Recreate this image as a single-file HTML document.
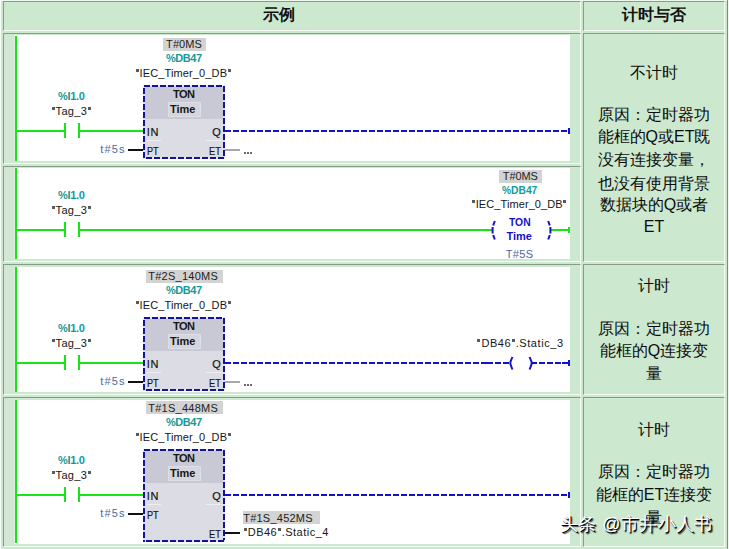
<!DOCTYPE html>
<html><head><meta charset="utf-8"><style>
html,body{margin:0;padding:0;background:#fff;}
body{width:729px;height:549px;position:relative;overflow:hidden;font-family:"Liberation Sans",sans-serif;}
div{position:absolute;box-sizing:content-box;}
.t{white-space:nowrap;}
.n{-webkit-text-stroke:0.2px currentColor;}
.q{color:transparent;-webkit-text-stroke:0;position:relative;}
.q::after{content:'';position:absolute;left:0.6px;top:2.3px;width:3px;height:2.5px;background:#5a5a5a;}
.c{text-align:center;white-space:nowrap;}
.r{text-align:center;white-space:nowrap;font-size:16px;line-height:20px;color:#0c0c0c;font-weight:500;}
.wm{white-space:nowrap;font-size:18px;line-height:22px;color:#fff;font-weight:500;letter-spacing:0.4px;text-shadow:1px 1px 0 #000,1.5px 1.5px 1px rgba(0,0,0,.7);}
svg{position:absolute;left:0;top:0;}
</style></head><body>
<div style="left:0px;top:0px;width:728px;height:549px;background:#cce8cf;"></div>
<div style="left:0px;top:0px;width:728px;height:1px;background:#eef8ee;"></div>
<div style="left:0px;top:0px;width:1px;height:549px;background:#fbfffb;"></div>
<div style="left:727px;top:0px;width:1px;height:549px;background:#7d8a7d;"></div>
<div style="left:728px;top:0px;width:1px;height:549px;background:#f0f8f0;"></div>
<div style="left:3px;top:1px;width:576px;height:28px;background:#cce8cf;border-top:1px solid #8a9a8a;border-left:1px solid #8a9a8a;border-right:1px solid #f4fcf4;border-bottom:1px solid #f4fcf4"></div>
<div style="left:583px;top:1px;width:140px;height:28px;background:#cce8cf;border-top:1px solid #8a9a8a;border-left:1px solid #8a9a8a;border-right:1px solid #f4fcf4;border-bottom:1px solid #f4fcf4"></div>
<div style="left:3px;top:33px;width:576px;height:129px;background:#cce8cf;border-top:1px solid #8a9a8a;border-left:1px solid #8a9a8a;border-right:1px solid #f4fcf4;border-bottom:1px solid #f4fcf4"></div>
<div style="left:3px;top:166px;width:576px;height:94px;background:#cce8cf;border-top:1px solid #8a9a8a;border-left:1px solid #8a9a8a;border-right:1px solid #f4fcf4;border-bottom:1px solid #f4fcf4"></div>
<div style="left:3px;top:264px;width:576px;height:129px;background:#cce8cf;border-top:1px solid #8a9a8a;border-left:1px solid #8a9a8a;border-right:1px solid #f4fcf4;border-bottom:1px solid #f4fcf4"></div>
<div style="left:3px;top:397px;width:576px;height:148px;background:#cce8cf;border-top:1px solid #8a9a8a;border-left:1px solid #8a9a8a;border-right:1px solid #f4fcf4;border-bottom:1px solid #f4fcf4"></div>
<div style="left:583px;top:33px;width:140px;height:227px;background:#cce8cf;border-top:1px solid #8a9a8a;border-left:1px solid #8a9a8a;border-right:1px solid #f4fcf4;border-bottom:1px solid #f4fcf4"></div>
<div style="left:583px;top:264px;width:140px;height:129px;background:#cce8cf;border-top:1px solid #8a9a8a;border-left:1px solid #8a9a8a;border-right:1px solid #f4fcf4;border-bottom:1px solid #f4fcf4"></div>
<div style="left:583px;top:397px;width:140px;height:148px;background:#cce8cf;border-top:1px solid #8a9a8a;border-left:1px solid #8a9a8a;border-right:1px solid #f4fcf4;border-bottom:1px solid #f4fcf4"></div>
<div style="left:580px;top:31px;width:1px;height:1px;background:#f4fcf4;"></div>
<div style="left:580px;top:32px;width:1px;height:1px;background:#f4fcf4;"></div>
<div style="left:580px;top:164px;width:1px;height:1px;background:#f4fcf4;"></div>
<div style="left:580px;top:165px;width:1px;height:1px;background:#f4fcf4;"></div>
<div style="left:580px;top:262px;width:1px;height:1px;background:#f4fcf4;"></div>
<div style="left:580px;top:263px;width:1px;height:1px;background:#f4fcf4;"></div>
<div style="left:580px;top:395px;width:1px;height:1px;background:#f4fcf4;"></div>
<div style="left:580px;top:396px;width:1px;height:1px;background:#f4fcf4;"></div>
<div style="left:724px;top:31px;width:1px;height:1px;background:#f4fcf4;"></div>
<div style="left:724px;top:32px;width:1px;height:1px;background:#f4fcf4;"></div>
<div style="left:724px;top:262px;width:1px;height:1px;background:#f4fcf4;"></div>
<div style="left:724px;top:263px;width:1px;height:1px;background:#f4fcf4;"></div>
<div style="left:724px;top:395px;width:1px;height:1px;background:#f4fcf4;"></div>
<div style="left:724px;top:396px;width:1px;height:1px;background:#f4fcf4;"></div>
<div class="c" style="left:-9px;top:5px;width:576px;font-size:16px;line-height:20px;font-weight:bold;color:#111">示例</div>
<div class="c" style="left:584px;top:5px;width:140px;font-size:16px;line-height:20px;font-weight:bold;color:#111">计时与否</div>
<div style="left:4px;top:35px;width:566px;height:126px;background:#ffffff;"></div>
<div style="left:4px;top:35px;width:10px;height:126px;background:#d4e6d6;"></div>
<div style="left:14px;top:35px;width:1px;height:126px;background:#dcf2d8;"></div>
<div style="left:15px;top:36px;width:2px;height:125px;background:#18e418;"></div>
<div style="left:163px;top:38px;width:43px;height:13px;background:#d3d3d3;"></div>
<div class="t" style="left:166.1px;top:39px;font-size:11px;line-height:11px;color:#222;font-weight:normal;letter-spacing:0.07px;">T#0MS</div>
<div class="t" style="left:58.0px;top:91px;font-size:11px;line-height:11px;color:#139a9a;font-weight:bold;letter-spacing:-0.33px;">%I1.0</div>
<div class="t" style="left:51.3px;top:106px;font-size:11px;line-height:11px;color:#161616;font-weight:normal;letter-spacing:0.34px;"><span class="q">"</span>Tag_3<span class="q">"</span></div>
<div style="left:17px;top:130px;width:47px;height:2px;background:#18e418;"></div>
<div style="left:64px;top:123px;width:2px;height:15px;background:#18e418;"></div>
<div style="left:78px;top:123px;width:2px;height:15px;background:#18e418;"></div>
<div style="left:80px;top:130px;width:63px;height:2px;background:#18e418;"></div>
<div class="t" style="left:166.0px;top:53px;font-size:11px;line-height:11px;color:#139a9a;font-weight:bold;letter-spacing:-0.44px;">%DB47</div>
<div class="t" style="left:135.5px;top:68px;font-size:11px;line-height:11px;color:#161616;font-weight:normal;letter-spacing:0.13px;"><span class="q">"</span>IEC_Timer_0_DB<span class="q">"</span></div>
<div style="left:143px;top:85px;width:82px;height:74px;background:#e2e2f4;"></div>
<div style="left:145px;top:87px;width:78px;height:70px;background:#dcdce4;"></div>
<div style="left:145px;top:87px;width:78px;height:32px;background:#c9c9d6;"></div>
<div style="left:168px;top:102px;width:33px;height:15px;background:#d5d5dd;box-shadow:inset 0 0 0 1px #dedee6;"></div>
<div class="t" style="left:173.0px;top:89px;font-size:11px;line-height:11px;color:#161616;font-weight:bold;letter-spacing:-0.53px;">TON</div>
<div class="t" style="left:170.1px;top:104px;font-size:11px;line-height:11px;color:#161616;font-weight:bold;letter-spacing:-0.06px;">Time</div>
<div class="t n" style="left:146.7px;top:127px;font-size:11px;line-height:11px;color:#161616;font-weight:normal;letter-spacing:0.71px;">IN</div>
<div style="left:147px;top:140px;width:14px;height:1px;background:#eeeef2;"></div>
<div style="left:206px;top:140px;width:16px;height:1px;background:#eeeef2;"></div>
<div class="t n" style="left:146.95px;top:146px;font-size:11px;line-height:11px;color:#161616;font-weight:normal;transform:scaleX(0.829);transform-origin:0 0;">PT</div>
<div class="t n" style="left:212.3px;top:127px;font-size:11px;line-height:11px;color:#161616;font-weight:normal;letter-spacing:0.00px;">Q</div>
<div class="t n" style="left:209.24px;top:146px;font-size:11px;line-height:11px;color:#161616;font-weight:normal;transform:scaleX(0.837);transform-origin:0 0;">ET</div>
<div class="t" style="left:100.3px;top:144px;font-size:11px;line-height:11px;color:#4a68a0;font-weight:normal;letter-spacing:1.16px;">t#5s</div>
<div style="left:128px;top:149px;width:15px;height:2px;background:#111;"></div>
<div style="left:225px;top:149px;width:15px;height:2px;background:#a8a8a8;"></div>
<div style="left:244px;top:152px;width:2px;height:2px;background:#6a6a6a;"></div>
<div style="left:247px;top:152px;width:2px;height:2px;background:#6a6a6a;"></div>
<div style="left:250px;top:152px;width:2px;height:2px;background:#6a6a6a;"></div>
<div style="left:568px;top:128px;width:2px;height:6px;background:#1212c8;"></div>
<div style="left:4px;top:168px;width:566px;height:91px;background:#ffffff;"></div>
<div style="left:4px;top:168px;width:10px;height:91px;background:#d4e6d6;"></div>
<div style="left:14px;top:168px;width:1px;height:91px;background:#dcf2d8;"></div>
<div style="left:15px;top:168px;width:2px;height:91px;background:#18e418;"></div>
<div class="t" style="left:58.0px;top:190px;font-size:11px;line-height:11px;color:#139a9a;font-weight:bold;letter-spacing:-0.33px;">%I1.0</div>
<div class="t" style="left:51.3px;top:205px;font-size:11px;line-height:11px;color:#161616;font-weight:normal;letter-spacing:0.34px;"><span class="q">"</span>Tag_3<span class="q">"</span></div>
<div style="left:17px;top:229px;width:47px;height:2px;background:#18e418;"></div>
<div style="left:64px;top:222px;width:2px;height:15px;background:#18e418;"></div>
<div style="left:78px;top:222px;width:2px;height:15px;background:#18e418;"></div>
<div style="left:80px;top:229px;width:412px;height:2px;background:#18e418;"></div>
<div style="left:499px;top:170px;width:43px;height:13px;background:#d3d3d3;"></div>
<div class="t" style="left:502.8px;top:171px;font-size:11px;line-height:11px;color:#222;font-weight:normal;letter-spacing:-0.10px;">T#0MS</div>
<div class="t" style="left:502.44px;top:185px;font-size:11px;line-height:11px;color:#139a9a;font-weight:bold;transform:scaleX(0.931);transform-origin:0 0;">%DB47</div>
<div class="t" style="left:471.7px;top:199px;font-size:11px;line-height:11px;color:#161616;font-weight:normal;letter-spacing:0.09px;"><span class="q">"</span>IEC_Timer_0_DB<span class="q">"</span></div>
<div class="t" style="left:508.88px;top:217px;font-size:11px;line-height:11px;color:#1212c8;font-weight:bold;transform:scaleX(0.939);transform-origin:0 0;">TON</div>
<div class="t" style="left:506.4px;top:231px;font-size:11px;line-height:11px;color:#1212c8;font-weight:bold;letter-spacing:-0.02px;">Time</div>
<div style="left:550px;top:229px;width:20px;height:2px;background:#18e418;"></div>
<div style="left:568px;top:227px;width:2px;height:6px;background:#18e418;"></div>
<div class="t" style="left:505.8px;top:249px;font-size:11px;line-height:11px;color:#4a68a0;font-weight:normal;letter-spacing:0.32px;">T#5S</div>
<div style="left:4px;top:267px;width:566px;height:125px;background:#ffffff;"></div>
<div style="left:4px;top:267px;width:10px;height:125px;background:#d4e6d6;"></div>
<div style="left:14px;top:267px;width:1px;height:125px;background:#dcf2d8;"></div>
<div style="left:15px;top:267px;width:2px;height:125px;background:#18e418;"></div>
<div style="left:146px;top:270px;width:77px;height:13px;background:#d3d3d3;"></div>
<div class="t" style="left:148.2px;top:271px;font-size:11px;line-height:11px;color:#222;font-weight:normal;letter-spacing:0.27px;">T#2S_140MS</div>
<div class="t" style="left:58.0px;top:323px;font-size:11px;line-height:11px;color:#139a9a;font-weight:bold;letter-spacing:-0.33px;">%I1.0</div>
<div class="t" style="left:51.3px;top:338px;font-size:11px;line-height:11px;color:#161616;font-weight:normal;letter-spacing:0.34px;"><span class="q">"</span>Tag_3<span class="q">"</span></div>
<div style="left:17px;top:362px;width:47px;height:2px;background:#18e418;"></div>
<div style="left:64px;top:355px;width:2px;height:15px;background:#18e418;"></div>
<div style="left:78px;top:355px;width:2px;height:15px;background:#18e418;"></div>
<div style="left:80px;top:362px;width:63px;height:2px;background:#18e418;"></div>
<div class="t" style="left:166.0px;top:285px;font-size:11px;line-height:11px;color:#139a9a;font-weight:bold;letter-spacing:-0.44px;">%DB47</div>
<div class="t" style="left:135.5px;top:300px;font-size:11px;line-height:11px;color:#161616;font-weight:normal;letter-spacing:0.13px;"><span class="q">"</span>IEC_Timer_0_DB<span class="q">"</span></div>
<div style="left:143px;top:317px;width:82px;height:74px;background:#e2e2f4;"></div>
<div style="left:145px;top:319px;width:78px;height:70px;background:#dcdce4;"></div>
<div style="left:145px;top:319px;width:78px;height:32px;background:#c9c9d6;"></div>
<div style="left:168px;top:334px;width:33px;height:15px;background:#d5d5dd;box-shadow:inset 0 0 0 1px #dedee6;"></div>
<div class="t" style="left:173.0px;top:321px;font-size:11px;line-height:11px;color:#161616;font-weight:bold;letter-spacing:-0.53px;">TON</div>
<div class="t" style="left:170.1px;top:336px;font-size:11px;line-height:11px;color:#161616;font-weight:bold;letter-spacing:-0.06px;">Time</div>
<div class="t n" style="left:146.7px;top:359px;font-size:11px;line-height:11px;color:#161616;font-weight:normal;letter-spacing:0.71px;">IN</div>
<div style="left:147px;top:372px;width:14px;height:1px;background:#eeeef2;"></div>
<div style="left:206px;top:372px;width:16px;height:1px;background:#eeeef2;"></div>
<div class="t n" style="left:146.95px;top:378px;font-size:11px;line-height:11px;color:#161616;font-weight:normal;transform:scaleX(0.829);transform-origin:0 0;">PT</div>
<div class="t n" style="left:212.3px;top:359px;font-size:11px;line-height:11px;color:#161616;font-weight:normal;letter-spacing:0.00px;">Q</div>
<div class="t n" style="left:209.24px;top:378px;font-size:11px;line-height:11px;color:#161616;font-weight:normal;transform:scaleX(0.837);transform-origin:0 0;">ET</div>
<div class="t" style="left:100.3px;top:376px;font-size:11px;line-height:11px;color:#4a68a0;font-weight:normal;letter-spacing:1.16px;">t#5s</div>
<div style="left:128px;top:381px;width:15px;height:2px;background:#111;"></div>
<div style="left:225px;top:381px;width:15px;height:2px;background:#a8a8a8;"></div>
<div style="left:244px;top:384px;width:2px;height:2px;background:#6a6a6a;"></div>
<div style="left:247px;top:384px;width:2px;height:2px;background:#6a6a6a;"></div>
<div style="left:250px;top:384px;width:2px;height:2px;background:#6a6a6a;"></div>
<div style="left:481px;top:362px;width:12px;height:2px;background:#1212c8;"></div>
<div style="left:562px;top:362px;width:6px;height:2px;background:#1212c8;"></div>
<div style="left:568px;top:360px;width:2px;height:6px;background:#1212c8;"></div>
<div class="t" style="left:476.9px;top:338px;font-size:11px;line-height:11px;color:#161616;font-weight:normal;letter-spacing:0.57px;"><span class="q">"</span>DB46<span class="q">"</span>.Static_3</div>
<div style="left:4px;top:400px;width:566px;height:144px;background:#ffffff;"></div>
<div style="left:4px;top:400px;width:10px;height:144px;background:#d4e6d6;"></div>
<div style="left:14px;top:400px;width:1px;height:144px;background:#dcf2d8;"></div>
<div style="left:15px;top:400px;width:2px;height:143px;background:#18e418;"></div>
<div style="left:146px;top:401px;width:77px;height:13px;background:#d3d3d3;"></div>
<div class="t" style="left:148.2px;top:403px;font-size:11px;line-height:11px;color:#222;font-weight:normal;letter-spacing:0.27px;">T#1S_448MS</div>
<div class="t" style="left:58.0px;top:455px;font-size:11px;line-height:11px;color:#139a9a;font-weight:bold;letter-spacing:-0.33px;">%I1.0</div>
<div class="t" style="left:51.3px;top:470px;font-size:11px;line-height:11px;color:#161616;font-weight:normal;letter-spacing:0.34px;"><span class="q">"</span>Tag_3<span class="q">"</span></div>
<div style="left:17px;top:494px;width:47px;height:2px;background:#18e418;"></div>
<div style="left:64px;top:487px;width:2px;height:15px;background:#18e418;"></div>
<div style="left:78px;top:487px;width:2px;height:15px;background:#18e418;"></div>
<div style="left:80px;top:494px;width:63px;height:2px;background:#18e418;"></div>
<div class="t" style="left:166.0px;top:417px;font-size:11px;line-height:11px;color:#139a9a;font-weight:bold;letter-spacing:-0.44px;">%DB47</div>
<div class="t" style="left:135.5px;top:432px;font-size:11px;line-height:11px;color:#161616;font-weight:normal;letter-spacing:0.13px;"><span class="q">"</span>IEC_Timer_0_DB<span class="q">"</span></div>
<div style="left:143px;top:449px;width:82px;height:93px;background:#e2e2f4;"></div>
<div style="left:145px;top:451px;width:78px;height:89px;background:#dcdce4;"></div>
<div style="left:145px;top:451px;width:78px;height:32px;background:#c9c9d6;"></div>
<div style="left:168px;top:466px;width:33px;height:15px;background:#d5d5dd;box-shadow:inset 0 0 0 1px #dedee6;"></div>
<div class="t" style="left:173.0px;top:453px;font-size:11px;line-height:11px;color:#161616;font-weight:bold;letter-spacing:-0.53px;">TON</div>
<div class="t" style="left:170.1px;top:468px;font-size:11px;line-height:11px;color:#161616;font-weight:bold;letter-spacing:-0.06px;">Time</div>
<div class="t n" style="left:146.7px;top:491px;font-size:11px;line-height:11px;color:#161616;font-weight:normal;letter-spacing:0.71px;">IN</div>
<div style="left:147px;top:504px;width:14px;height:1px;background:#eeeef2;"></div>
<div style="left:206px;top:504px;width:16px;height:1px;background:#eeeef2;"></div>
<div class="t n" style="left:146.95px;top:510px;font-size:11px;line-height:11px;color:#161616;font-weight:normal;transform:scaleX(0.829);transform-origin:0 0;">PT</div>
<div class="t n" style="left:212.3px;top:491px;font-size:11px;line-height:11px;color:#161616;font-weight:normal;letter-spacing:0.00px;">Q</div>
<div class="t n" style="left:209.24px;top:529px;font-size:11px;line-height:11px;color:#161616;font-weight:normal;transform:scaleX(0.837);transform-origin:0 0;">ET</div>
<div class="t" style="left:100.3px;top:508px;font-size:11px;line-height:11px;color:#4a68a0;font-weight:normal;letter-spacing:1.16px;">t#5s</div>
<div style="left:128px;top:513px;width:15px;height:2px;background:#111;"></div>
<div style="left:225px;top:532px;width:15px;height:2px;background:#111;"></div>
<div style="left:568px;top:492px;width:2px;height:6px;background:#1212c8;"></div>
<div style="left:243px;top:511px;width:77px;height:13px;background:#d3d3d3;"></div>
<div class="t" style="left:243.2px;top:513px;font-size:11px;line-height:11px;color:#222;font-weight:normal;letter-spacing:0.24px;">T#1S_452MS</div>
<div class="t" style="left:243.3px;top:527px;font-size:11px;line-height:11px;color:#161616;font-weight:normal;letter-spacing:0.50px;"><span class="q">"</span>DB46<span class="q">"</span>.Static_4</div>
<svg width="729" height="549" viewBox="0 0 729 549">
<line x1="144" y1="86" x2="222" y2="86" stroke="#12129a" stroke-width="2" stroke-dasharray="6 2"/>
<line x1="224" y1="86" x2="224" y2="157" stroke="#12129a" stroke-width="2" stroke-dasharray="6 2"/>
<line x1="146" y1="158" x2="224" y2="158" stroke="#12129a" stroke-width="2" stroke-dasharray="6 2"/>
<line x1="144" y1="88" x2="144" y2="159" stroke="#12129a" stroke-width="2" stroke-dasharray="6 2"/>
<line x1="225" y1="131" x2="568" y2="131" stroke="#1212c8" stroke-width="2" stroke-dasharray="6 2"/>
<path d="M494.8 221 L493.2 225.5 M492.6 227 V233.5 M493.2 235 L494.8 239.5" fill="none" stroke="#1212c8" stroke-width="2"/>
<path d="M548.2 221 L549.8 225.5 M550.4 227 V233.5 M549.8 235 L548.2 239.5" fill="none" stroke="#1212c8" stroke-width="2"/>
<line x1="144" y1="318" x2="222" y2="318" stroke="#12129a" stroke-width="2" stroke-dasharray="6 2"/>
<line x1="224" y1="318" x2="224" y2="389" stroke="#12129a" stroke-width="2" stroke-dasharray="6 2"/>
<line x1="146" y1="390" x2="224" y2="390" stroke="#12129a" stroke-width="2" stroke-dasharray="6 2"/>
<line x1="144" y1="320" x2="144" y2="391" stroke="#12129a" stroke-width="2" stroke-dasharray="6 2"/>
<line x1="225" y1="363" x2="481" y2="363" stroke="#1212c8" stroke-width="2" stroke-dasharray="6 2"/>
<line x1="495" y1="363" x2="509" y2="363" stroke="#1212c8" stroke-width="2" stroke-dasharray="6 2"/>
<line x1="531" y1="363" x2="561" y2="363" stroke="#1212c8" stroke-width="2" stroke-dasharray="6 2"/>
<path d="M512.4 357 L510.4 362 L510.4 364 L512.4 369.5" fill="none" stroke="#1212c8" stroke-width="2"/>
<path d="M529.6 357 L531.6 362 L531.6 364 L529.6 369.5" fill="none" stroke="#1212c8" stroke-width="2"/>
<line x1="144" y1="450" x2="222" y2="450" stroke="#12129a" stroke-width="2" stroke-dasharray="6 2"/>
<line x1="224" y1="450" x2="224" y2="540" stroke="#12129a" stroke-width="2" stroke-dasharray="6 2"/>
<line x1="146" y1="541" x2="224" y2="541" stroke="#12129a" stroke-width="2" stroke-dasharray="6 2"/>
<line x1="144" y1="452" x2="144" y2="542" stroke="#12129a" stroke-width="2" stroke-dasharray="6 2"/>
<line x1="225" y1="495" x2="568" y2="495" stroke="#1212c8" stroke-width="2" stroke-dasharray="6 2"/>
</svg>
<div class="wm" style="left:560px;top:513px">头条 @市井小人书</div>
<div class="r" style="left:584px;top:63px;width:140px">不计时</div>
<div class="r" style="left:584px;top:105px;width:140px">原因：定时器功</div>
<div class="r" style="left:584px;top:127px;width:140px">能框的Q或ET既</div>
<div class="r" style="left:584px;top:150px;width:140px">没有连接变量，</div>
<div class="r" style="left:584px;top:174px;width:140px">也没有使用背景</div>
<div class="r" style="left:584px;top:195px;width:140px">数据块的Q或者</div>
<div class="r" style="left:584px;top:217px;width:140px">ET</div>
<div class="r" style="left:584px;top:276px;width:140px">计时</div>
<div class="r" style="left:584px;top:319px;width:140px">原因：定时器功</div>
<div class="r" style="left:584px;top:341px;width:140px">能框的Q连接变</div>
<div class="r" style="left:584px;top:364px;width:140px">量</div>
<div class="r" style="left:584px;top:420px;width:140px">计时</div>
<div class="r" style="left:584px;top:462px;width:140px">原因：定时器功</div>
<div class="r" style="left:584px;top:485px;width:140px">能框的ET连接变</div>
<div class="r" style="left:584px;top:508px;width:140px">量</div>
</body></html>
